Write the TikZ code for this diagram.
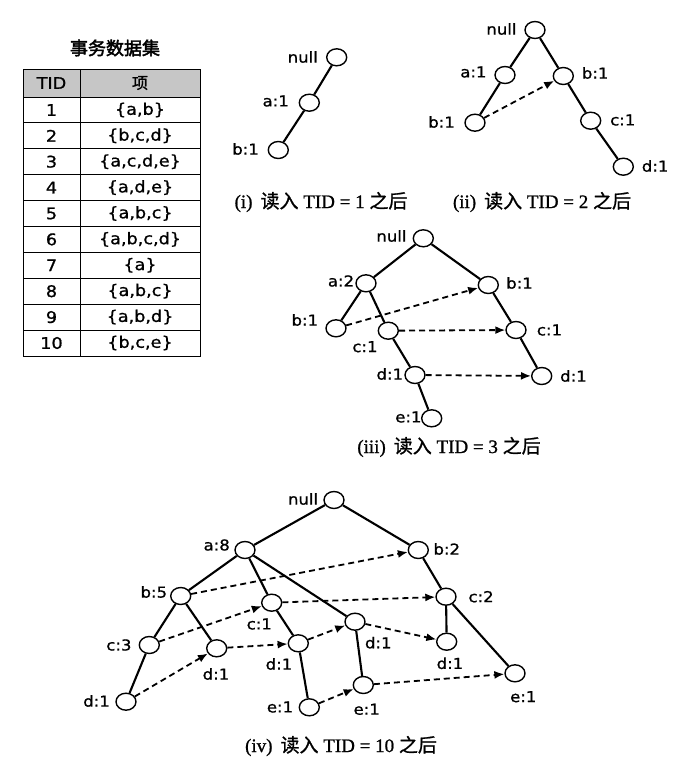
\documentclass[tikz,border=0pt]{standalone}
\usepackage{fontspec}
\setmainfont{Liberation Serif}[FakeBold=1]
\newfontfamily\labfont{DejaVu Sans}[FakeStretch=1.1,FakeBold=1]
\newfontfamily\cjk{Noto Sans CJK SC}[FakeBold=1]
\newfontfamily\cjkb{Noto Sans CJK SC}[FakeBold=2.5]
\usetikzlibrary{shapes.geometric,arrows.meta}
\newcommand\treenode[5]{\node[nd] (#1) at (#2) {}; \node[lab,anchor=#3] (#1t) at (#4) {#5};}
\begin{document}
\begin{tikzpicture}[x=1pt,y=-1pt,
 nd/.style={ellipse,draw,line width=1.4pt,minimum width=20pt,minimum height=17pt,inner sep=0pt},
 lab/.style={font=\labfont\fontsize{15}{15}\selectfont,inner sep=0pt},
 tb/.style={font=\labfont\fontsize{16}{16}\selectfont,inner sep=0pt},
 treeline/.style={line width=2.1pt},
 ptr/.style={line width=1.8pt,dash pattern=on 6pt off 4pt,-{Latex[length=10pt,width=8pt]}},
 captext/.style={font=\fontsize{19}{22}\selectfont,inner sep=0pt}]
\useasboundingbox (0,0) rectangle (699,769);

% ---------- table ----------
\node[font=\cjkb\fontsize{18}{20}\selectfont,inner sep=0pt] (title) at (115,48) {事务数据集};
\fill[gray!45] (23,69) rectangle (200,97);
\draw[line width=1pt] (23,69) rectangle (200,356);
\draw[line width=1pt] (80,69) -- (80,356);
\foreach \k in {0,...,9} \draw[line width=1pt] (23,{97+25.9*\k}) -- (200,{97+25.9*\k});
\node[tb] (hTID) at (51.5,83) {TID};
\node[font=\cjk\fontsize{16}{16}\selectfont,inner sep=0pt] (hItem) at (140,83) {项};
\node[tb] (t1) at (51.5,110) {1};   \node[tb] (s1) at (140,110) {\{a,b\}};
\node[tb] (t2) at (51.5,135.8) {2}; \node[tb] (s2) at (140,135.8) {\{b,c,d\}};
\node[tb] (t3) at (51.5,161.7) {3}; \node[tb] (s3) at (140,161.7) {\{a,c,d,e\}};
\node[tb] (t4) at (51.5,187.6) {4}; \node[tb] (s4) at (140,187.6) {\{a,d,e\}};
\node[tb] (t5) at (51.5,213.5) {5}; \node[tb] (s5) at (140,213.5) {\{a,b,c\}};
\node[tb] (t6) at (51.5,239.4) {6}; \node[tb] (s6) at (140,239.4) {\{a,b,c,d\}};
\node[tb] (t7) at (51.5,265.3) {7}; \node[tb] (s7) at (140,265.3) {\{a\}};
\node[tb] (t8) at (51.5,291.2) {8}; \node[tb] (s8) at (140,291.2) {\{a,b,c\}};
\node[tb] (t9) at (51.5,317.1) {9}; \node[tb] (s9) at (140,317.1) {\{a,b,d\}};
\node[tb] (t10) at (51.5,343) {10}; \node[tb] (s10) at (140,343) {\{b,c,e\}};

% ---------- tree (i) ----------
\treenode{Anull}{336.7,57.3}{east}{318,57}{null}
\treenode{Aa}{309.3,102.7}{east}{289,101}{a:1}
\treenode{Ab}{278.3,150}{east}{259,149}{b:1}
\draw[treeline] (Anull) -- (Aa) (Aa) -- (Ab);
\node[captext] (capA) at (321,202) {(i)\hspace{8pt}{\cjk 读入} TID = 1 {\cjk 之后}};

% ---------- tree (ii) ----------
\treenode{Bnull}{535,30}{east}{516.7,29}{null}
\treenode{Ba}{505,75}{east}{486.7,72}{a:1}
\treenode{Bb}{563.3,76}{west}{581.7,73}{b:1}
\treenode{Bab}{475,122.7}{east}{455,122}{b:1}
\treenode{Bc}{590.7,120.7}{west}{610,120}{c:1}
\treenode{Bd}{623.3,166.7}{west}{641.7,166}{d:1}
\draw[treeline] (Bnull) -- (Ba) (Bnull) -- (Bb) (Ba) -- (Bab) (Bb) -- (Bc) (Bc) -- (Bd);
\draw[ptr] (Bab) -- (Bb);
\node[captext] (capB) at (542,202) {(ii)\hspace{8pt}{\cjk 读入} TID = 2 {\cjk 之后}};

% ---------- tree (iii) ----------
\treenode{Cnull}{423.3,238.3}{east}{406.7,236}{null}
\treenode{Ca}{366,283.3}{east}{354.3,281}{a:2}
\treenode{Cb}{488.3,285}{west}{506,283}{b:1}
\treenode{Cab}{336,328.3}{east}{318.3,320}{b:1}
\treenode{Cac}{388.3,330.7}{center}{365,346.7}{c:1}
\treenode{Cbc}{516,330}{west}{536.7,330}{c:1}
\treenode{Cacd}{415,375}{east}{403.3,374}{d:1}
\treenode{Cbcd}{541.7,376}{west}{560,376}{d:1}
\treenode{Cacde}{431.7,418.3}{east}{421.7,417}{e:1}
\draw[treeline] (Cnull) -- (Ca) (Cnull) -- (Cb) (Ca) -- (Cab) (Ca) -- (Cac)
  (Cac) -- (Cacd) (Cacd) -- (Cacde) (Cb) -- (Cbc) (Cbc) -- (Cbcd);
\draw[ptr] (Cab) -- (Cb);
\draw[ptr] (Cac) -- (Cbc);
\draw[ptr] (Cacd) -- (Cbcd);
\node[captext] (capC) at (449,447) {(iii)\hspace{8pt}{\cjk 读入} TID = 3 {\cjk 之后}};

% ---------- tree (iv) ----------
\treenode{Dnull}{334,500}{east}{318.3,499}{null}
\treenode{Da}{245,550}{east}{230,545}{a:8}
\treenode{Db}{418.3,550}{west}{433.3,549}{b:2}
\treenode{Dab}{180.7,596}{east}{167.3,592}{b:5}
\treenode{Dac}{271.7,602.7}{center}{259.3,624}{c:1}
\treenode{Dbc}{446,596.7}{west}{468.3,596.7}{c:2}
\treenode{Dad}{355,621.7}{center}{378.3,642.7}{d:1}
\treenode{Dabc}{149.3,645}{east}{131.7,645}{c:3}
\treenode{Dabd}{216.7,648.3}{center}{216,674}{d:1}
\treenode{Dacd}{298.3,643.3}{center}{279,664}{d:1}
\treenode{Dbcd}{446.7,641.7}{center}{450,663.3}{d:1}
\treenode{Dbce}{515,673.3}{center}{523.3,696.7}{e:1}
\treenode{Dade}{363.3,685}{center}{366.7,709.3}{e:1}
\treenode{Dacde}{309.3,707.3}{east}{293.3,707}{e:1}
\treenode{Dabcd}{126,701.7}{east}{110,701}{d:1}
\draw[treeline] (Dnull) -- (Da) (Dnull) -- (Db)
  (Da) -- (Dab) (Da) -- (Dac) (Da) -- (Dad)
  (Dab) -- (Dabc) (Dab) -- (Dabd) (Dabc) -- (Dabcd)
  (Dac) -- (Dacd) (Dacd) -- (Dacde) (Dad) -- (Dade)
  (Db) -- (Dbc) (Dbc) -- (Dbcd) (Dbc) -- (Dbce);
\draw[ptr] (Dab) -- (Db);
\draw[ptr] (Dabc) -- (Dac);
\draw[ptr] (Dac) -- (Dbc);
\draw[ptr] (Dabcd) -- (Dabd);
\draw[ptr] (Dabd) -- (Dacd);
\draw[ptr] (Dacd) -- (Dad);
\draw[ptr] (Dad) -- (Dbcd);
\draw[ptr] (Dacde) -- (Dade);
\draw[ptr] (Dade) -- (Dbce);
\node[captext] (capD) at (341,746) {(iv)\hspace{8pt}{\cjk 读入} TID = 10 {\cjk 之后}};
\end{tikzpicture}
\end{document}
